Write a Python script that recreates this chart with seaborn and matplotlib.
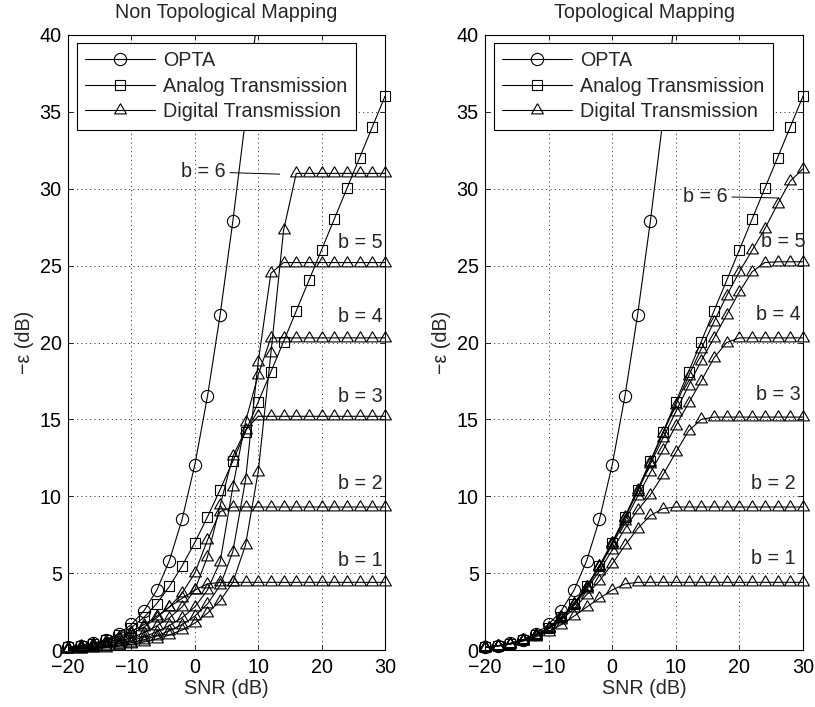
import numpy as np
import pandas as pd
import seaborn as sns
import matplotlib
matplotlib.use("Agg")
import matplotlib.pyplot as plt

# SNR grid (dB)
snr = [-20, -18, -16, -14, -12, -10, -8, -6, -4, -2, 0, 2, 4, 6, 8,
       10, 12, 14, 16, 18, 20, 22, 24, 26, 28, 30]

# OPTA bound (only the points up to 12 dB reach the plotted range)
opta = [0.17, 0.27, 0.43, 0.68, 1.06, 1.66, 2.56, 3.89, 5.82, 8.50,
        12.04, 16.50, 21.82, 27.89, 34.56, 41.66, 49.06]

# Analog transmission
analog = [0.17, 0.27, 0.42, 0.64, 0.98, 1.46, 2.13, 3.02, 4.14, 5.47,
          6.99, 8.66, 10.43, 12.29, 14.19, 16.13, 18.09, 20.06, 22.05,
          24.04, 26.03, 28.03, 30.03, 32.02, 34.02, 36.02]

# Digital transmission with b = 1 bit (same for both mappings)
b1 = [0.16, 0.25, 0.38, 0.58, 0.85, 1.20, 1.65, 2.20, 2.80, 3.36,
      3.90, 4.30, 4.40, 4.40, 4.40, 4.40, 4.40, 4.40, 4.40, 4.40,
      4.40, 4.40, 4.40, 4.40, 4.40, 4.40]

# Digital transmission, non topological mapping, b = 2..6 bits
nt_b2 = [0.12, 0.19, 0.30, 0.47, 0.72, 1.05, 1.50, 2.10, 2.80, 3.70,
         5.00, 7.15, 9.00, 9.30, 9.30, 9.30, 9.30, 9.30, 9.30, 9.30,
         9.30, 9.30, 9.30, 9.30, 9.30, 9.30]
nt_b3 = [0.09, 0.15, 0.23, 0.36, 0.55, 0.80, 1.13, 1.57, 2.10, 2.80,
         3.90, 6.07, 9.40, 12.60, 14.30, 15.20, 15.20, 15.20, 15.20,
         15.20, 15.20, 15.20, 15.20, 15.20, 15.20, 15.20]
nt_b4 = [0.07, 0.11, 0.17, 0.27, 0.41, 0.60, 0.86, 1.18, 1.60, 2.10,
         2.80, 3.90, 5.75, 10.60, 14.85, 17.90, 20.30, 20.30, 20.30,
         20.30, 20.30, 20.30, 20.30, 20.30, 20.30, 20.30]
nt_b5 = [0.055, 0.085, 0.13, 0.21, 0.32, 0.47, 0.67, 0.92, 1.25, 1.65,
         2.20, 3.00, 4.20, 6.40, 11.06, 18.75, 24.50, 25.20, 25.20,
         25.20, 25.20, 25.20, 25.20, 25.20, 25.20, 25.20]
nt_b6 = [0.04, 0.065, 0.10, 0.16, 0.25, 0.37, 0.52, 0.72, 0.98, 1.30,
         1.75, 2.40, 3.20, 4.40, 6.83, 11.60, 19.30, 27.30, 31.00,
         31.00, 31.00, 31.00, 31.00, 31.00, 31.00, 31.00]

# Digital transmission, topological mapping, b = 2..6 bits
tp_b2 = [0.16, 0.26, 0.40, 0.61, 0.92, 1.37, 1.95, 2.70, 3.60, 4.50,
         5.60, 6.80, 7.90, 8.75, 9.20, 9.30, 9.30, 9.30, 9.30, 9.30,
         9.30, 9.30, 9.30, 9.30, 9.30, 9.30]
tp_b3 = [0.17, 0.27, 0.41, 0.63, 0.95, 1.42, 2.05, 2.90, 3.95, 5.15,
         6.50, 7.90, 9.10, 10.10, 11.40, 12.85, 14.25, 15.00, 15.15,
         15.15, 15.15, 15.15, 15.15, 15.15, 15.15, 15.15]
tp_b4 = [0.17, 0.27, 0.42, 0.63, 0.96, 1.44, 2.10, 2.97, 4.08, 5.38,
         6.85, 8.40, 10.00, 11.55, 13.00, 14.60, 16.05, 17.50, 19.00,
         20.00, 20.30, 20.30, 20.30, 20.30, 20.30, 20.30]
tp_b5 = [0.17, 0.27, 0.42, 0.64, 0.97, 1.45, 2.12, 3.00, 4.12, 5.44,
         6.95, 8.60, 10.30, 12.10, 13.80, 15.50, 17.20, 18.80, 20.30,
         21.80, 23.30, 24.60, 25.20, 25.25, 25.25, 25.25]
tp_b6 = [0.17, 0.27, 0.42, 0.64, 0.97, 1.46, 2.13, 3.01, 4.13, 5.46,
         6.98, 8.65, 10.40, 12.25, 14.10, 15.95, 17.80, 19.60, 21.35,
         23.05, 24.60, 26.00, 27.40, 29.00, 30.50, 31.30]

titles = ["Non Topological Mapping", "Topological Mapping"]
legend_labels = ["OPTA", "Analog Transmission", "Digital Transmission"]
bit_labels = ["b = 1", "b = 2", "b = 3", "b = 4", "b = 5", "b = 6"]
x_ticks = [-20, -10, 0, 10, 20, 30]
y_ticks = [0, 5, 10, 15, 20, 25, 30, 35, 40]

FS = 14.2

sns.set_style("ticks")
plt.rcParams["font.family"] = ["Liberation Sans", "DejaVu Sans"]
plt.rcParams["font.size"] = FS
plt.rcParams["xtick.direction"] = "in"
plt.rcParams["ytick.direction"] = "in"
plt.rcParams["xtick.top"] = True
plt.rcParams["ytick.right"] = True
plt.rcParams["xtick.major.size"] = 3.6
plt.rcParams["ytick.major.size"] = 3.6
plt.rcParams["xtick.major.width"] = 0.6
plt.rcParams["ytick.major.width"] = 0.6
plt.rcParams["axes.linewidth"] = 0.8
plt.rcParams["axes.edgecolor"] = "black"
plt.rcParams["xtick.color"] = "black"
plt.rcParams["ytick.color"] = "black"
plt.rcParams["xtick.labelsize"] = FS
plt.rcParams["ytick.labelsize"] = FS

# equilateral triangle centred on its centroid
tri = [(0.0, 1.0), (-0.866, -0.5), (0.866, -0.5), (0.0, 1.0)]

fig = plt.figure(figsize=(8.15, 7.07), dpi=100)
ax_l = fig.add_axes([68 / 815, 57 / 707, 317 / 815, 615 / 707])
ax_r = fig.add_axes([485 / 815, 57 / 707, 318 / 815, 615 / 707])

style = {
    "opta": dict(marker="o", markersize=8.8),
    "analog": dict(marker="s", markersize=7.2),
    "digital": dict(marker=tri, markersize=9.8),
}


def draw_curve(ax, xs, ys, kind):
    df = pd.DataFrame({"snr": xs[:len(ys)], "eps": ys})
    sns.lineplot(data=df, x="snr", y="eps", ax=ax, color="black",
                 linewidth=0.8, estimator=None, sort=False, zorder=3)
    vis = df[(df["eps"] <= 40) & (df["eps"] >= 0)]
    sns.lineplot(data=vis, x="snr", y="eps", ax=ax, color="black",
                 linestyle="none", estimator=None, sort=False,
                 markerfacecolor="none", markeredgecolor="black",
                 markeredgewidth=0.8, clip_on=False, zorder=4,
                 **style[kind])


panels = [
    (ax_l, [b1, nt_b2, nt_b3, nt_b4, nt_b5, nt_b6]),
    (ax_r, [b1, tp_b2, tp_b3, tp_b4, tp_b5, tp_b6]),
]

for ax, digital in panels:
    draw_curve(ax, snr, opta, "opta")
    draw_curve(ax, snr, analog, "analog")
    for curve in digital:
        draw_curve(ax, snr, curve, "digital")

    ax.set_xlim(-20, 30)
    ax.set_ylim(0, 40)
    ax.set_xticks(x_ticks)
    ax.set_yticks(y_ticks)
    ax.grid(True, color="black", linewidth=0.6, linestyle=(0, (1.2, 4)))
    ax.set_axisbelow(True)
    ax.set_xlabel("SNR (dB)", labelpad=1)
    ax.set_ylabel("\u2212\u03b5 (dB)", labelpad=4)
    ax.tick_params(axis="x", pad=6)
    ax.tick_params(axis="y", pad=4.5)
    for s in ax.spines.values():
        s.set_visible(True)

    handles = [
        plt.Line2D([], [], color="black", linewidth=0.8, markerfacecolor="none",
                   markeredgecolor="black", markeredgewidth=0.8, **style[k])
        for k in ("opta", "analog", "digital")
    ]
    leg = ax.legend(handles, legend_labels, loc="upper left",
                    bbox_to_anchor=(0.0284, 0.987), borderaxespad=0,
                    frameon=True, fancybox=False, framealpha=1,
                    edgecolor="black", handlelength=3.55, handletextpad=0.4,
                    borderpad=0.42, labelspacing=0.33, fontsize=FS)
    leg.get_frame().set_linewidth(0.8)
    leg.set_zorder(10)

ax_l.set_title(titles[0], fontsize=FS, pad=12)
ax_r.set_title(titles[1], fontsize=FS, pad=12)

# bit-depth labels, right aligned near each saturation level
label_y_l = [5.85, 10.85, 16.5, 21.7, 26.5]
label_y_r = [5.95, 10.85, 16.6, 21.8, 26.55]
label_x_l = [29.7, 29.7, 29.6, 29.7, 29.7]
label_x_r = [28.8, 28.8, 29.6, 29.6, 30.35]
for i in range(5):
    ax_l.text(label_x_l[i], label_y_l[i], bit_labels[i], ha="right",
              va="center", fontsize=FS, zorder=6)
    ax_r.text(label_x_r[i], label_y_r[i], bit_labels[i], ha="right",
              va="center", fontsize=FS, zorder=6, clip_on=False)

ax_l.annotate(bit_labels[5], xy=(13.4, 30.95), xytext=(4.8, 31.1),
              ha="right", va="center", fontsize=FS,
              arrowprops=dict(arrowstyle="-", color="black", lw=0.7,
                              shrinkA=1, shrinkB=0))
ax_r.annotate(bit_labels[5], xy=(26.1, 29.4), xytext=(18.1, 29.5),
              ha="right", va="center", fontsize=FS,
              arrowprops=dict(arrowstyle="-", color="black", lw=0.7,
                              shrinkA=1, shrinkB=0))

fig.savefig("out.png", dpi=100)
